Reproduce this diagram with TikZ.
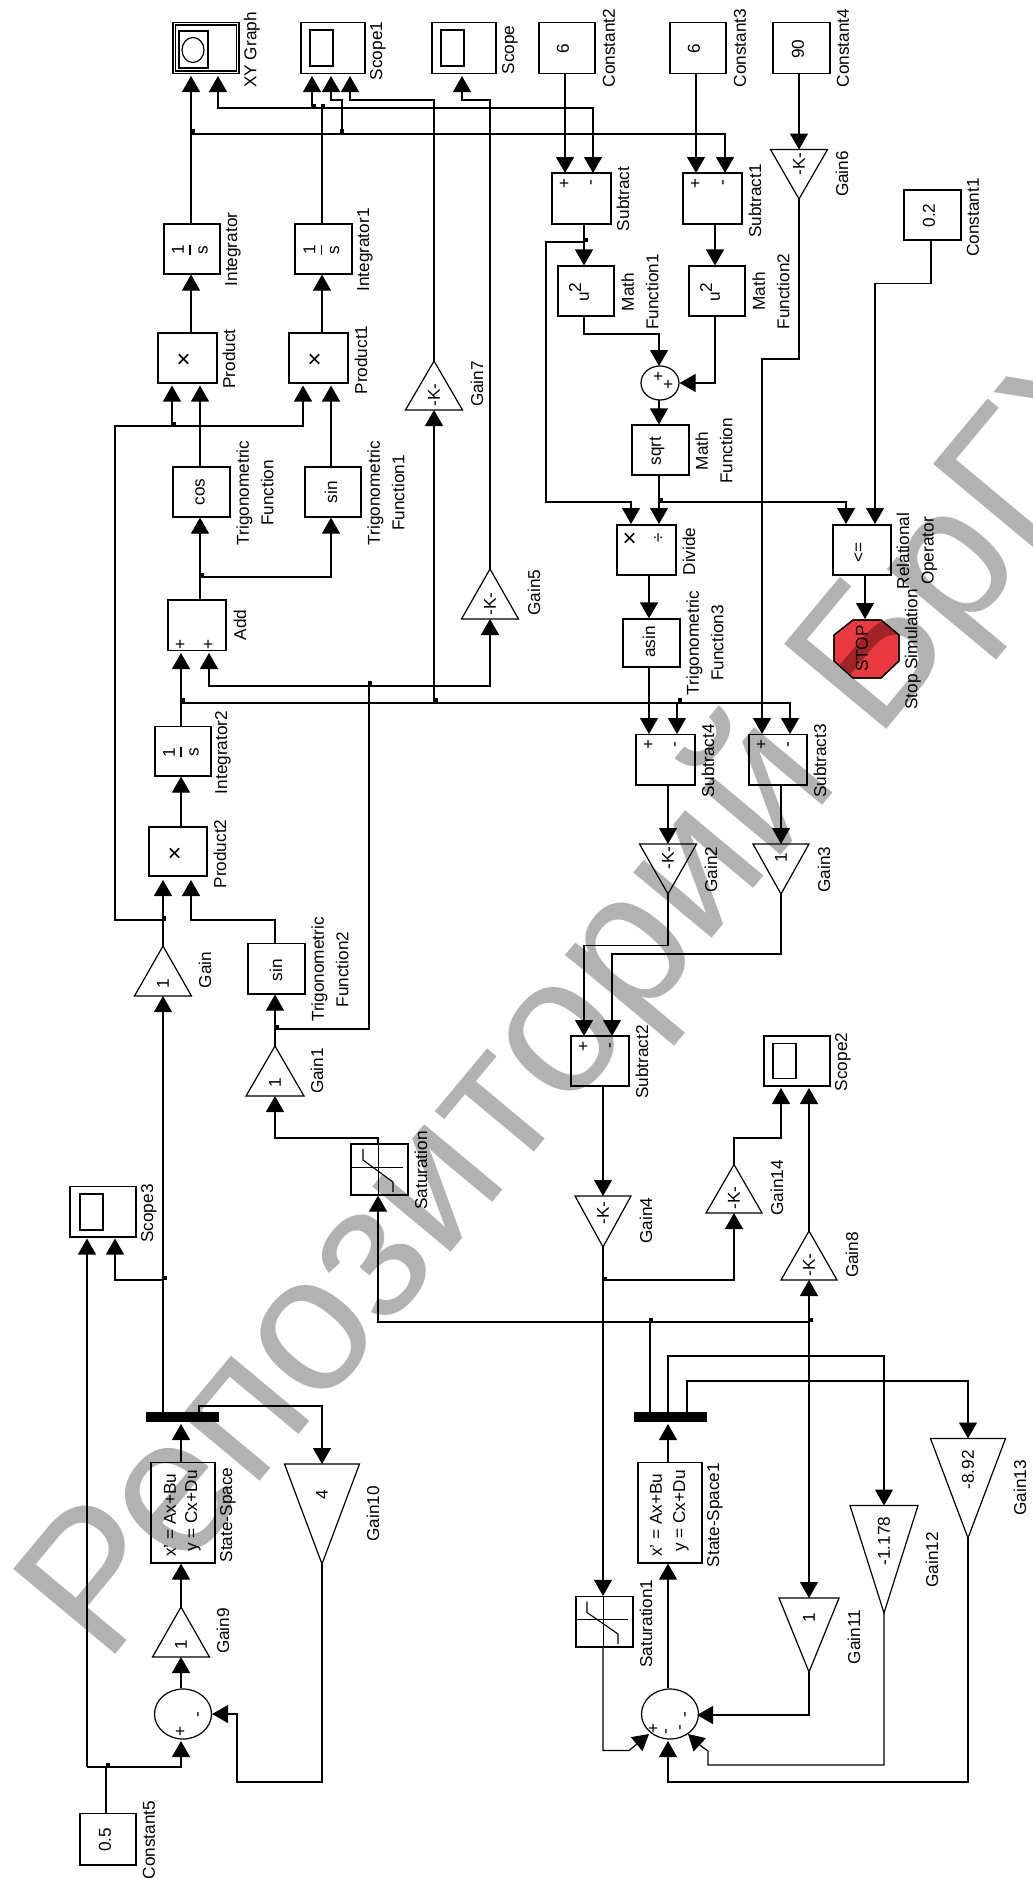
\documentclass[tikz,border=0pt]{standalone}
\usepackage{fontspec}
\setmainfont{Liberation Sans}
\usetikzlibrary{arrows.meta,shapes.geometric}
\definecolor{wmgrey}{HTML}{B2B2B2}
\definecolor{stopred}{HTML}{E93A40}
\definecolor{stopdark}{HTML}{A02428}
\tikzset{
  lab/.style={rotate=90,align=center,inner sep=0pt,font=\fontsize{17.2}{24.5}\selectfont},
  blk/.style={draw,line width=1.2pt,inner sep=0pt},
  wire/.style={line width=1.2pt},
  sig/.style={line width=1.2pt,-{Triangle[length=16pt,width=18pt]}},
  jun/.style={fill=black,minimum size=4.5pt,inner sep=0pt},
  sumbk/.style={draw,ellipse,line width=1.2pt,inner sep=0pt},
  wm/.style={rotate=50.2,anchor=base west,inner sep=0pt,font=\fontsize{193}{193}\selectfont}
}
\newcommand{\bx}[5]{\node[blk,minimum width={(#4)-(#2)},minimum height={(#5)-(#3)}] (#1) at ({((#2)+(#4))/2},{((#3)+(#5))/2}) {};}
\newcommand{\tri}[7]{%
  \draw[line width=1.2pt,line join=miter] (#2,#3) -- ({#2-#5},#4) -- ({#2+#5},#4) -- cycle;
  \coordinate (#1out) at (#2,#3); \coordinate (#1in) at (#2,#4);
  \node[lab] (#1) at (#2,#6) {#7};}
\newcommand{\lb}[4]{\node[lab] (#1) at (#2,#3) {#4};}
\newcommand{\jn}[3]{\node[jun] (#1) at (#2,#3) {};}
\newcommand{\scp}[7]{% name x1 y1 x2 y2 ix1 ix2
  \bx{#1}{#2}{#3}{#4}{#5}
  \draw[line width=1.2pt] (#6,{#3+7.5}) rectangle (#7,{#5-7.5});}
\newcommand{\intg}[5]{% name x1 y1 x2 y2
  \bx{#1}{#2}{#3}{#4}{#5}
  \node[lab] (#1n) at ({(#2+#4)/2-14},{(#3+#5)/2+1}) {1};
  \node[lab] (#1d) at ({(#2+#4)/2+11},{(#3+#5)/2+1}) {s};
  \draw[line width=1.1pt] ({(#2+#4)/2-2},{(#3+#5)/2-4}) -- ({(#2+#4)/2-2},{(#3+#5)/2+6});}
\newcommand{\satur}[7]{\bx{#1}{#2}{#3}{#4}{#5}
  \draw[line width=1.1pt] ({(#2+#4)/2-1},#3) -- ({(#2+#4)/2-1},#5);
  \draw[line width=1.1pt] ({#2+1},{(#3+#5)/2-2}) -- ({#4-5},{(#3+#5)/2-2});
  \draw[line width=1.1pt] (#6,{#3+5}) -- (#6,{#3+16}) -- (#7,{#5-13}) -- (#7,{#5-3});}
\newcommand{\wmtext}[1]{\node[wm,text=#1] (wmark#1) at (105.4,1666.5) {Репозиторий БрГУ};}
\begin{document}
\begin{tikzpicture}[x=1pt,y=-1pt]
\useasboundingbox (0,0) rectangle (1033,1879);
\fill[white] (0,0) rectangle (1033,1879);
\wmtext{wmgrey}

% ---------- top row
\bx{XY}{173}{22.5}{239}{73.5}
\draw[line width=1.2pt] (175.5,25) rectangle (236.5,71);
\draw[line width=1.2pt] (179,31) rectangle (208,68);
\draw[line width=1.2pt] (193,50) ellipse (11 and 12.5);
\scp{Scope1}{301}{22.5}{365}{73.5}{310}{333}
\scp{Scope}{432}{22.5}{496}{73.5}{441}{464}
\bx{Const2}{539}{22.5}{595}{73.5}
\bx{Const3}{670}{22.5}{726}{73.5}
\bx{Const4}{773}{22.5}{830}{73.5}
\lb{v6a}{563}{49}{6}\lb{v6b}{694}{49}{6}\lb{v90}{798}{49}{90}
\bx{Const1}{904}{190}{961}{240}
\lb{v02}{929}{215.5}{0.2}
\tri{Gsix}{799}{199}{149.5}{28.5}{164}{-K-}

% ---------- integrators, products, trig
\intg{Int}{164}{224}{220}{274}
\intg{IntA}{295}{224}{352}{274}
\bx{Prod}{158}{333}{217}{383}
\bx{ProdA}{289}{333}{348}{383}
\lb{xp}{185}{359}{\fontsize{24}{24}\selectfont ×}
\lb{xpa}{316}{359}{\fontsize{24}{24}\selectfont ×}
\bx{Cos}{173}{467}{230}{517}
\bx{Sin}{305}{467}{361}{517}
\lb{tcos}{200}{492}{cos}\lb{tsin}{331}{492}{sin}
\bx{Add}{168}{600}{226}{650.5}
\lb{pa}{181}{644}{+}\lb{pb}{209}{644}{+}
\intg{IntB}{155}{726.5}{211}{776}
\bx{ProdB}{149}{827}{207}{876}
\lb{xpb}{176}{853}{\fontsize{24}{24}\selectfont ×}
\bx{SinB}{248}{943.5}{305}{994}
\lb{tsinb}{276}{970}{sin}
\tri{Gone}{163}{946}{996}{28.5}{984}{1}
\tri{GoneA}{275}{1046}{1096}{29}{1083}{1}
\tri{Gseven}{434}{361}{410}{28.5}{395}{-K-}
\tri{Gfive}{490}{569}{619}{28.5}{604}{-K-}
\satur{Sat}{351}{1144}{408}{1195}{363}{393}
\bx{ScopeC}{70}{1186.5}{136}{1237}
\draw[line width=1.2pt] (80,1194) rectangle (103,1230);

% ---------- left state space
\fill (146,1412) rectangle (219,1422); \coordinate (BarA) at (181,1412);
\bx{SS}{151}{1462.5}{215}{1563}
\lb{ssa}{170}{1515}{x' = Ax+Bu}\lb{ssb}{193}{1511}{y = Cx+Du}
\tri{Gnine}{181}{1607}{1657}{28.5}{1645}{1}
\tri{Gten}{322}{1564}{1464}{37.5}{1495}{4}
\node[sumbk,minimum width=57pt,minimum height=50pt] (SumA) at (183,1714) {};
\lb{spa}{181}{1731}{+}\lb{spb}{200}{1715}{-}
\bx{ConstE}{80}{1813.5}{136}{1865}
\lb{v05}{105}{1840}{0.5}

% ---------- right top
\bx{Sub}{552}{173}{611}{224}
\bx{SubA}{683}{173}{742}{224}
\lb{s1}{565}{183}{+}\lb{s2}{593}{183}{-}\lb{s3}{696}{183}{+}\lb{s4}{725}{183}{-}
\bx{MFa}{558}{266}{614}{316}
\bx{MFb}{689}{266}{745}{316}
\lb{ua}{579}{292}{u{\raisebox{0.45em}{2}}}
\lb{ub}{710}{292}{u{\raisebox{0.45em}{2}}}
\node[sumbk,minimum width=38pt,minimum height=34pt] (SumB) at (660,383) {};
\lb{sb1}{659}{376}{+}\lb{sb2}{669}{384}{+}
\bx{Sqrt}{632}{425}{689}{475}
\lb{tsq}{657}{451}{sqrt}
\bx{Div}{617}{525}{676}{575}
\lb{dx}{631}{538}{\fontsize{24}{24}\selectfont ×}\lb{dd}{659}{538}{÷}
\bx{Rel}{833}{525}{891}{575}
\lb{tle}{859}{552}{<=}
\bx{Asin}{623}{619}{680}{667}
\lb{tas}{649}{642}{asin}
\draw[line width=1.2pt,fill=stopred] (853,620) -- (881,620) -- (899,635) -- (899,661) -- (881,678) -- (853,678) -- (834,661) -- (834,635) -- cycle;
\begin{scope}
\clip (853,620) -- (881,620) -- (899,635) -- (899,661) -- (881,678) -- (853,678) -- (834,661) -- (834,635) -- cycle;
\wmtext{stopdark}
\end{scope}
\draw[line width=1.2pt] (853,620) -- (881,620) -- (899,635) -- (899,661) -- (881,678) -- (853,678) -- (834,661) -- (834,635) -- cycle;
\lb{tstop}{862}{648.5}{STOP}
\bx{SubD}{636}{734.5}{695}{785}
\bx{SubC}{749}{734.5}{807}{785}
\lb{d1}{649}{744.5}{+}\lb{d2}{677}{744.5}{-}\lb{d3}{762}{744.5}{+}\lb{d4}{790}{744.5}{-}
\tri{Gtwo}{668}{894}{844}{28.5}{858}{-K-}
\tri{Gthree}{781}{894}{844}{28}{858}{1}
\bx{SubB}{571}{1036}{629}{1086}
\lb{e1}{584}{1046}{+}\lb{e2}{612}{1046}{-}
\scp{ScopeB}{764}{1036}{830}{1086}{773}{796}
\tri{Gfour}{603}{1247}{1196}{28}{1213}{-K-}
\tri{Gfourteen}{734}{1164.5}{1213}{28}{1198}{-K-}
\tri{Geight}{809}{1231}{1280}{28}{1265}{-K-}
\fill (634,1412) rectangle (707,1422); \coordinate (BarB) at (668,1412);
\bx{SSb}{638}{1462.5}{702}{1563}
\lb{ssc}{656}{1515}{x' = Ax+Bu}\lb{ssd}{681}{1511}{y = Cx+Du}
\satur{SatB}{576}{1596.5}{633}{1647}{587}{618}
\tri{Geleven}{809}{1672}{1598}{30}{1618}{1}
\tri{Gtwelve}{884}{1613}{1505.5}{34}{1541}{-1.178}
\tri{Gthirteen}{968}{1538}{1438.5}{37.5}{1470}{-8.92}
\node[sumbk,minimum width=57pt,minimum height=50pt] (SumC) at (670,1714) {};
\lb{c1}{654}{1728}{+}\lb{c2}{668}{1732}{-}\lb{c3}{682}{1728}{-}\lb{c4}{687}{1715}{-}

% ---------- labels
\lb{lXY}{252}{50}{XY Graph}\lb{lSc1}{378}{51}{Scope1}\lb{lSc}{510}{50}{Scope}
\lb{lC2}{609}{48}{Constant2}\lb{lC3}{740}{48}{Constant3}\lb{lC4}{843}{48}{Constant4}
\lb{lG6}{842}{174}{Gain6}\lb{lC1}{973}{217.5}{Constant1}
\lb{lI}{233}{249.5}{Integrator}\lb{lI1}{365}{250}{Integrator1}
\lb{lP}{229}{359}{Product}\lb{lP1}{361}{360}{Product1}\lb{lG7}{477}{384}{Gain7}
\lb{lT}{255}{493}{Trigonometric\\Function}\lb{lT1}{386}{493}{Trigonometric\\Function1}
\lb{lS}{623}{199}{Subtract}\lb{lS1}{755}{201}{Subtract1}
\lb{lM1}{640}{292}{Math\\Function1}\lb{lM2}{771}{291.5}{Math\\Function2}
\lb{lM}{714}{451}{Math\\Function}\lb{lD}{689}{551.5}{Divide}
\lb{lR}{917}{551}{Relational\\Operator}\lb{lG5}{534}{592.5}{Gain5}
\lb{lT3}{705}{643}{Trigonometric\\Function3}\lb{lSt}{913}{649.5}{Stop Simulation}
\lb{lA}{240}{625}{Add}\lb{lI2}{223}{752.5}{Integrator2}\lb{lP2}{220}{854}{Product2}
\lb{lG}{205}{970}{Gain}\lb{lT2}{330}{969.5}{Trigonometric\\Function2}
\lb{lG1}{317}{1071}{Gain1}\lb{lSa}{421}{1170.5}{Saturation}\lb{lSc3}{149}{1213.5}{Scope3}
\lb{lS4}{708}{761}{Subtract4}\lb{lS3}{820}{761}{Subtract3}
\lb{lG2}{711}{869.5}{Gain2}\lb{lG3}{824}{869.5}{Gain3}
\lb{lS2}{642}{1062}{Subtract2}\lb{lSc2}{843}{1062}{Scope2}
\lb{lG4}{646}{1220.5}{Gain4}\lb{lG14}{777}{1188}{Gain14}\lb{lG8}{852}{1255}{Gain8}
\lb{lC5}{149}{1840}{Constant5}\lb{lSS}{228}{1515}{State-Space}\lb{lG9}{223}{1631}{Gain9}
\lb{lG10}{373}{1514}{Gain10}\lb{lSS1}{715}{1515}{State-Space1}\lb{lSa1}{646}{1623.5}{Saturation1}
\lb{lG11}{854}{1637}{Gain11}\lb{lG12}{932}{1560}{Gain12}\lb{lG13}{1020}{1488}{Gain13}

% ---------- ports
\coordinate (XYa) at (191,76);\coordinate (XYb) at (218,76);
\coordinate (Sa) at (312,76);\coordinate (Sb) at (331,76);\coordinate (Sc) at (350,76);
\coordinate (Sd) at (462,76);
\coordinate (PrA) at (172,385.5);\coordinate (PrB) at (200,385.5);
\coordinate (PrC) at (303,385.5);\coordinate (PrD) at (331,385.5);
\coordinate (Ad1) at (181,653);\coordinate (Ad2) at (209,653);
\coordinate (PbA) at (163,880);\coordinate (PbB) at (191,880);
\coordinate (SuA) at (565,173);\coordinate (SuB) at (593,173);
\coordinate (SvA) at (696,173);\coordinate (SvB) at (725,173);
\coordinate (DvA) at (631,524);\coordinate (DvB) at (659,524);
\coordinate (RlA) at (846,524);\coordinate (RlB) at (875,524);
\coordinate (SdA) at (649,734);\coordinate (SdB) at (677,734);
\coordinate (ScA) at (762,734);\coordinate (ScB) at (790,734);
\coordinate (SeA) at (584,1036);\coordinate (SeB) at (612,1036);
\coordinate (ScE) at (87,1238.5);\coordinate (ScF) at (115,1238.5);
\coordinate (SbE) at (781,1088);\coordinate (SbF) at (809,1088);
\coordinate (xr) at (378,0);\coordinate (xm) at (715,0);\coordinate (xc) at (931,0);\coordinate (xq) at (865,0);
\coordinate (bus1) at (322,108);\coordinate (bus2) at (191,134);
\coordinate (bus3) at (172,426);\coordinate (bus4) at (200,577);
\coordinate (bus5) at (181,703);\coordinate (bus6) at (369,686);
\coordinate (bus7) at (163,920);\coordinate (bus8) at (275,1029);
\coordinate (bus9) at (163,1280);\coordinate (bus10) at (106,1767);
\coordinate (bus11) at (603,1280);\coordinate (bus12) at (650,1322);
\coordinate (bus13) at (809,1322);\coordinate (bus14) at (584,242);
\coordinate (bus15) at (659,502);

% ---------- connectors
\draw[sig] (Int.north -| XYa) -- (XYa);
\draw[wire] (IntA.north -| bus1) -- (bus1);
\draw[sig] (bus1) -- (XYb |- bus1) -- (XYb);
\draw[sig] (bus1) -- (SuB |- bus1) -- (SuB);
\draw[sig] (Sa |- bus1) -- (Sa);
\draw[sig] (bus2) -- (SvB |- bus2) -- (SvB);
\draw[sig] (342,134) -- (342,100) -- (331,100) -- (Sb);
\draw[sig] (Gsevenout) -- (434,100) -- (350,100) -- (Sc);
\draw[sig] (Gfiveout) -- (490,100) -- (462,100) -- (Sd);
\draw[sig] (Prod.north -| XYa) -- (Int.south -| XYa);
\draw[sig] (ProdA.north -| bus1) -- (IntA.south -| bus1);
\draw[sig] (bus3) -- (PrA);
\draw[sig] (bus7) -- (115,920) -- (115,426) -- (303,426) -- (PrC);
\draw[sig] (Cos.north -| PrB) -- (PrB);
\draw[sig] (Sin.north -| PrD) -- (PrD);
\draw[sig] (Add.north -| PrB) -- (Cos.south -| PrB);
\draw[sig] (bus4) -- (PrD |- bus4) -- (Sin.south -| PrD);
\draw[sig] (IntB.north -| Ad1) -- (Ad1);
\draw[sig] (bus5) -- (ScB |- bus5) -- (ScB);
\draw[sig] (bus5 -| Gsevenin) -- (Gsevenin);
\draw[sig] (SdB |- bus5) -- (SdB);
\draw[sig] (bus6) -- (490,686) -- (Gfivein);
\draw[sig] (bus6) -- (209,686) -- (Ad2);
\draw[wire] (bus6) -- (369,1029) -- (bus8);
\draw[sig] (ProdB.north -| Ad1) -- (IntB.south -| Ad1);
\draw[sig] (Goneout) -- (PbA);
\draw[sig] (SinB.north -| bus8) -- (275,920) -- (191,920) -- (PbB);
\draw[sig] (GoneAout) -- (SinB.south -| bus8);
\draw[sig] (Sat.north -| xr) -- (378,1138) -- (275,1138) -- (GoneAin);
\draw[sig] (bus13) -- (378,1322) -- (Sat.south -| xr);
\draw[sig] (BarA -| Gonein) -- (Gonein);
\draw[sig] (bus9) -- (115,1280) -- (ScF);
\draw[sig] (bus10 -| ScE) -- (ScE);
\draw[wire] (ConstE.north -| bus10) -- (bus10);
\draw[sig] (87,1767) -- (181,1767) -- (181,1741);
\draw[sig] (SS.north -| BarA) -- (181,1424);
\draw[sig] (Gnineout) -- (SS.south -| BarA);
\draw[sig] (SumA.north -| BarA) -- (Gninein);
\draw[sig] (Gtenout) -- (322,1782) -- (237,1782) -- (237,1714) -- (SumA.east);
\draw[sig] (199,1412) -- (199,1406) -- (322,1406) -- (Gtenin);
\draw[sig] (Const2.south -| SuA) -- (SuA);
\draw[sig] (Const3.south -| SvA) -- (SvA);
\draw[sig] (Const4.south -| Gsixin) -- (Gsixin);
\draw[sig] (Sub.south -| bus14) -- (MFa.north -| bus14);
\draw[sig] (bus14) -- (546,242) -- (546,502) -- (631,502) -- (DvA);
\draw[sig] (SubA.south -| xm) -- (MFb.north -| xm);
\draw[sig] (MFa.south -| bus14) -- (584,334) -- (659,334) -- (659,366);
\draw[sig] (MFb.south -| xm) -- (715,383) -- (SumB.east);
\draw[sig] (659,400) -- (Sqrt.north -| DvB);
\draw[sig] (Sqrt.south -| DvB) -- (DvB);
\draw[sig] (bus15) -- (RlA |- bus15) -- (RlA);
\draw[sig] (Const1.south -| xc) -- (931,283.5) -- (875,283.5) -- (RlB);
\draw[sig] (Rel.south -| xq) -- (865,619);
\draw[sig] (Div.south -| SdA) -- (Asin.north -| SdA);
\draw[sig] (Asin.south -| SdA) -- (SdA);
\draw[sig] (Gsixout) -- (799,359) -- (762,359) -- (ScA);
\draw[sig] (SubD.south -| Gtwoin) -- (Gtwoin);
\draw[sig] (SubC.south -| Gthreein) -- (Gthreein);
\draw[sig] (Gtwoout) -- (668,945.5) -- (584,945.5) -- (SeA);
\draw[sig] (Gthreeout) -- (781,954) -- (612,954) -- (SeB);
\draw[sig] (SubB.south -| Gfourin) -- (Gfourin);
\draw[sig] (Gfourout) -- (SatB.north -| Gfourout);
\draw[sig] (bus11) -- (734,1280) -- (Gfourteenin);
\draw[sig] (Gfourteenout) -- (734,1138) -- (781,1138) -- (SbE);
\draw[sig] (Geightout) -- (SbF);
\draw[sig] (bus13) -- (Geightin);
\draw[sig] (bus13) -- (Gelevenin);
\draw[wire] (BarB -| bus12) -- (bus12);
\draw[sig] (SSb.north -| BarB) -- (668,1424);
\draw[sig] (SumC.north -| BarB) -- (SSb.south -| BarB);
\draw[sig] (BarB) -- (668,1356) -- (884,1356) -- (Gtwelvein);
\draw[sig] (687,1412) -- (687,1381) -- (968,1381) -- (Gthirteenin);
\draw[sig] (Gelevenout) -- (809,1715) -- (697,1715);
\draw[sig] (Gtwelveout) -- (884,1765) -- (708,1765) -- (708,1751) -- (701,1746) -- (688,1734);
\draw[sig] (Gthirteenout) -- (968,1782) -- (668,1782) -- (668,1741);
\draw[sig] (SatB.south -| Gfourout) -- (603,1750.5) -- (629,1750.5) -- (649,1734);

% ---------- junctions
\jn{j1}{193}{131}\jn{j2}{342}{131}\jn{j3}{314}{106}\jn{j4}{323}{106}
\jn{j5}{174}{424}\jn{j6}{202}{575}\jn{j7}{586}{240}\jn{j8}{661}{500}
\jn{j9}{183}{700}\jn{j10}{436}{700}\jn{j11}{680}{700}\jn{j12}{370}{683.5}
\jn{j13}{164}{918.5}\jn{j14}{277}{1027}\jn{j15}{165}{1278}\jn{j16}{108}{1765}
\jn{j17}{605}{1279}\jn{j18}{651}{1320}\jn{j19}{811}{1320}
\end{tikzpicture}
\end{document}
